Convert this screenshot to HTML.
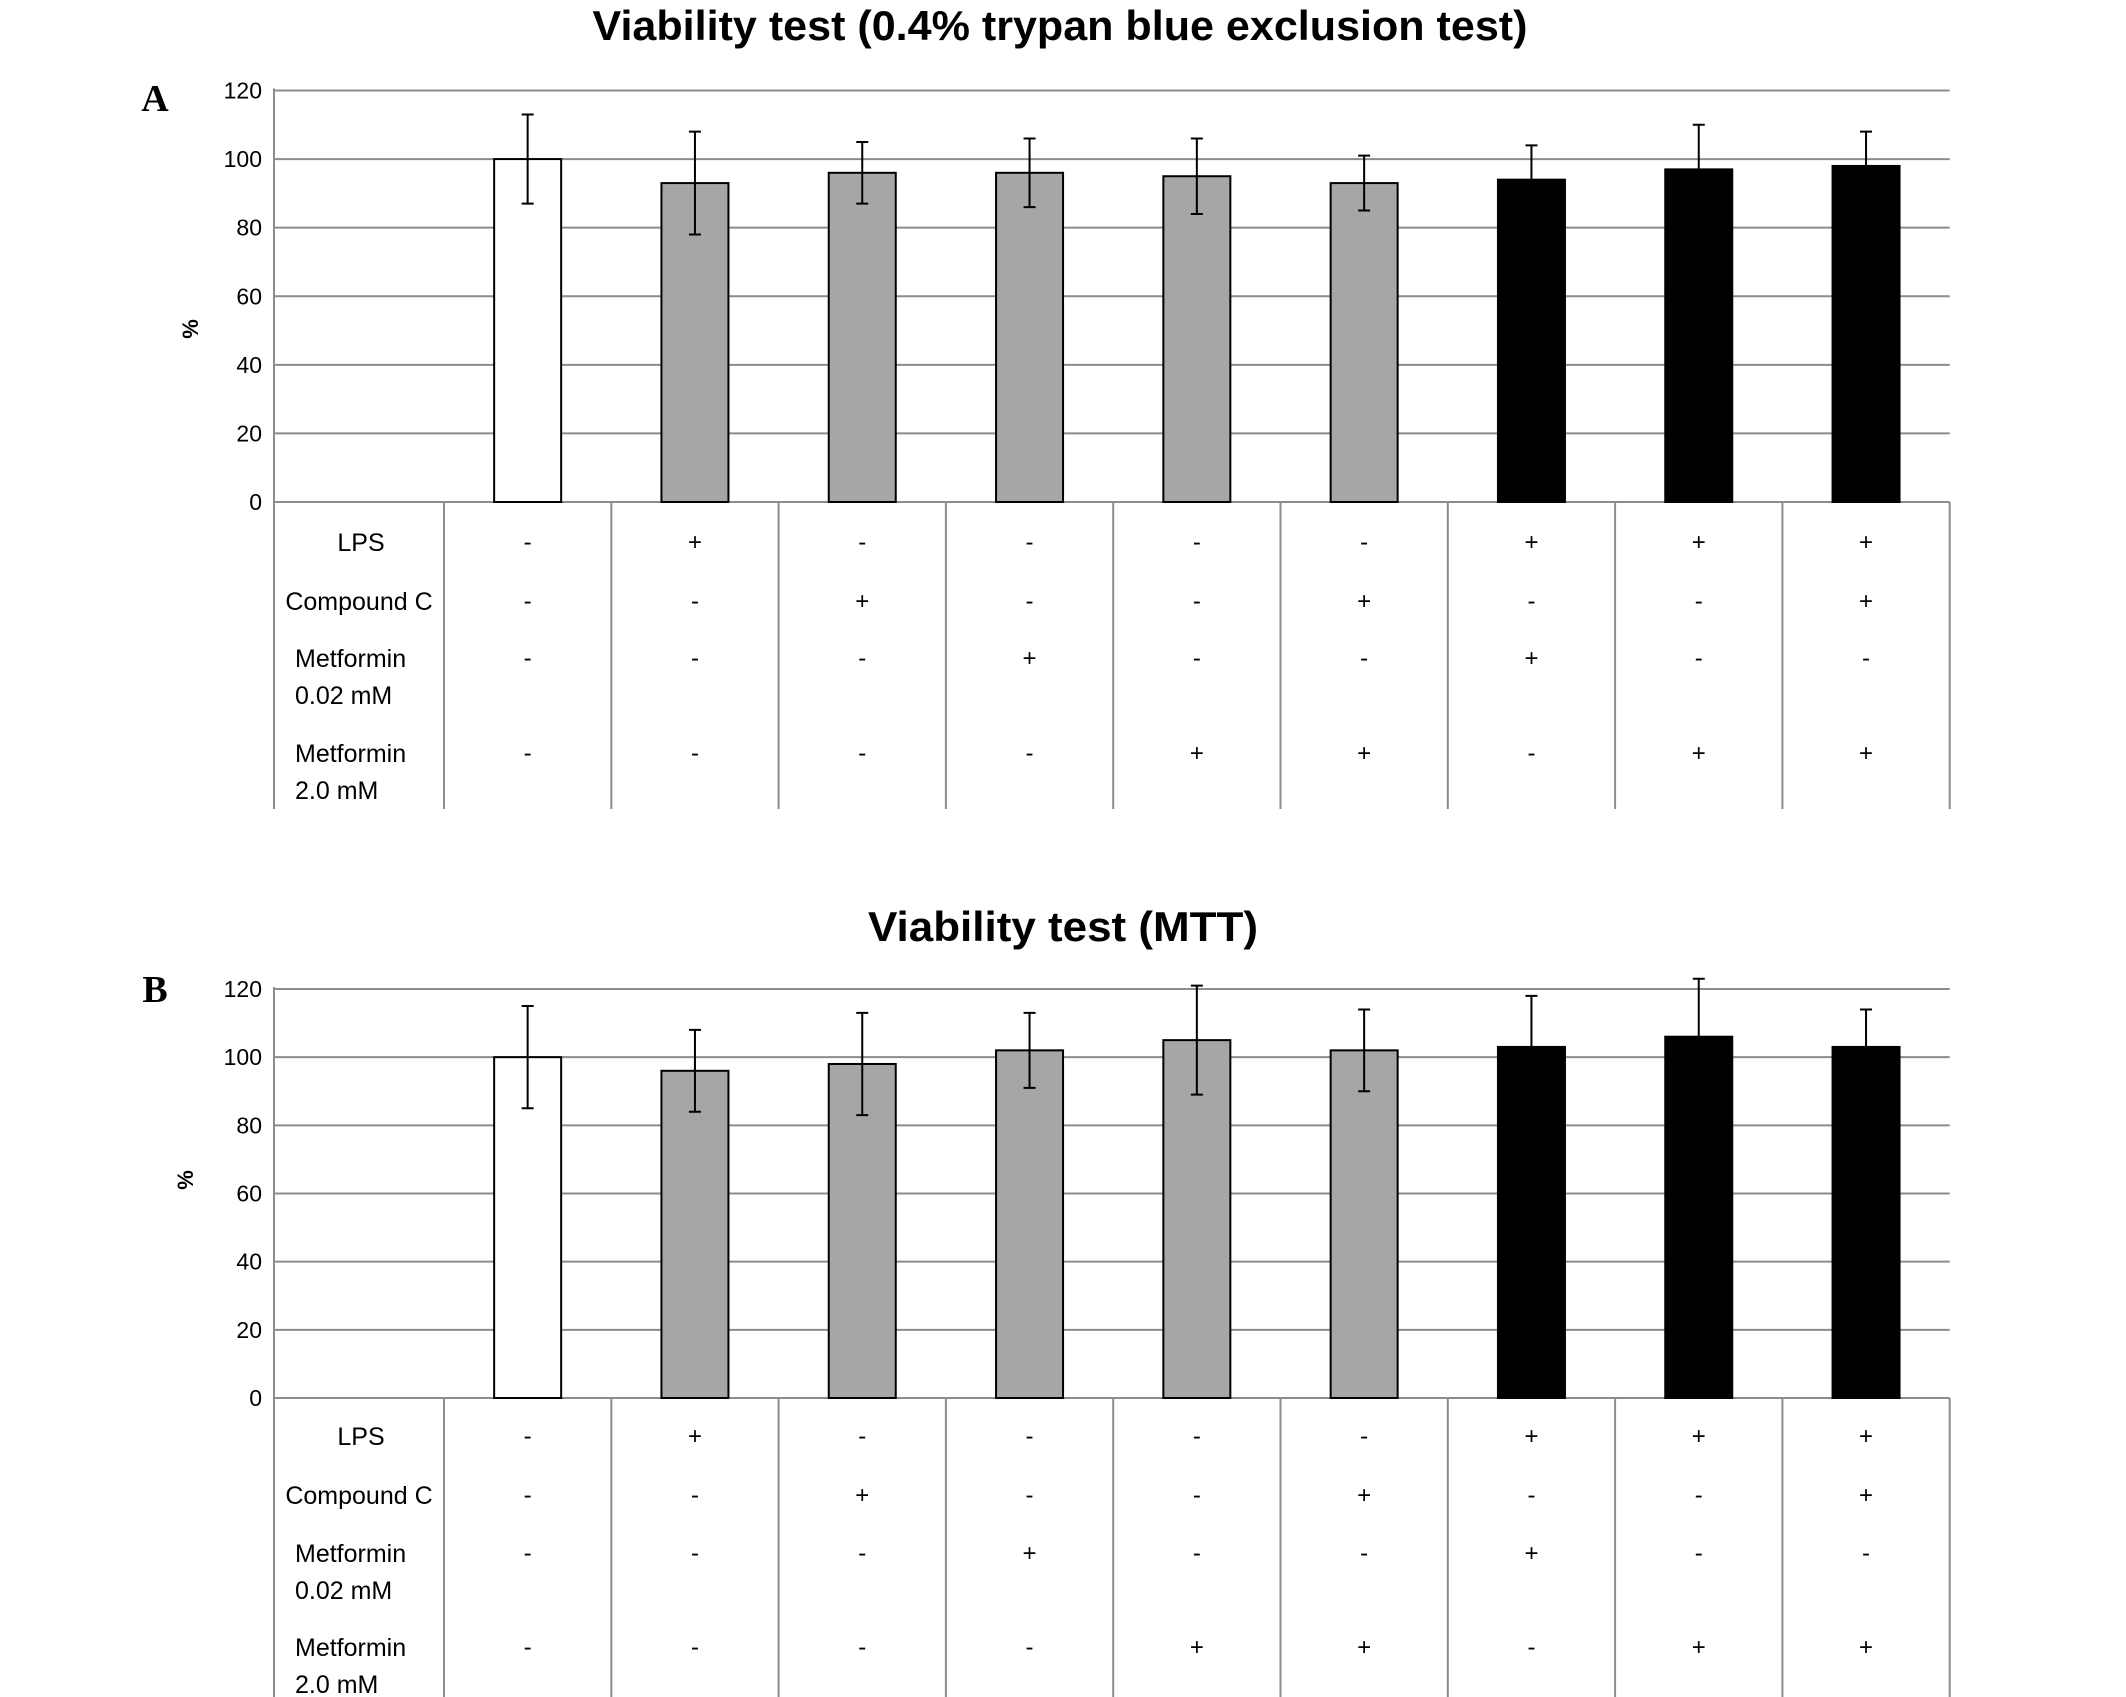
<!DOCTYPE html>
<html><head><meta charset="utf-8"><style>
html,body{margin:0;padding:0;background:#fff;}
svg{display:block;font-family:"Liberation Sans",sans-serif;}
</style></head><body>
<svg id="fig" width="2126" height="1697" viewBox="0 0 2126 1697">
<text x="1060" y="40" text-anchor="middle" font-size="42" font-weight="bold" textLength="935" lengthAdjust="spacingAndGlyphs">Viability test (0.4% trypan blue exclusion test)</text>
<text x="155" y="111" text-anchor="middle" font-size="38" font-weight="bold" font-family="Liberation Serif, serif">A</text>
<text x="1063" y="941" text-anchor="middle" font-size="42" font-weight="bold" textLength="390" lengthAdjust="spacingAndGlyphs">Viability test (MTT)</text>
<text x="155" y="1002" text-anchor="middle" font-size="38" font-weight="bold" font-family="Liberation Serif, serif">B</text>
<g id="ga"></g><g id="gb"></g>
</svg>
<script>
const categories = ["C1","C2","C3","C4","C5","C6","C7","C8","C9"];
const valuesA = [100,93,96,96,95,93,94,97,98];
const errorsA = [13,15,9,10,11,8,10,13,10];
const valuesB = [100,96,98,102,105,102,103,106,103];
const errorsB = [15,12,15,11,16,12,15,17,11];
const yTicks = [0,20,40,60,80,100,120];
const rowLPS = ["-","+","-","-","-","-","+","+","+"];
const rowCompC = ["-","-","+","-","-","+","-","-","+"];
const rowMet002 = ["-","-","-","+","-","-","+","-","-"];
const rowMet20 = ["-","-","-","-","+","+","-","+","+"];
const barColors = ["#ffffff","#a6a6a6","#a6a6a6","#a6a6a6","#a6a6a6","#a6a6a6","#000000","#000000","#000000"];

const NS="http://www.w3.org/2000/svg";
function mk(parent,tag,attrs,text){const e=document.createElementNS(NS,tag);for(const k in attrs)e.setAttribute(k,attrs[k]);if(text!==undefined)e.textContent=text;parent.appendChild(e);return e;}

function drawChart(g, cfg){
  const axisX=274, colStart=444, colW=167.3, right=colStart+colW*9;
  const y=v=>cfg.y0-(v/120)*(cfg.y0-cfg.y120);
  const cx=i=>colStart+colW*(i+0.5);
  yTicks.forEach(t=>{
    const l=mk(g,'line',{x1:axisX,x2:right,y1:y(t),y2:y(t),stroke:'#8c8c8c','stroke-width':2});
    
    
    const tx=mk(g,'text',{x:262,y:y(t)+8,'text-anchor':'end','font-size':23},String(t));
    
    
  });
  const ax=mk(g,'line',{x1:axisX,x2:axisX,y1:y(120)-2,y2:cfg.tableBottom,stroke:'#8c8c8c','stroke-width':2});
  
  
  for(let i=0;i<=9;i++){
    const l=mk(g,'line',{x1:colStart+colW*i,x2:colStart+colW*i,y1:y(0),y2:cfg.tableBottom,stroke:'#8c8c8c','stroke-width':2});
    
    
  }
  const yl=mk(g,'text',{x:0,y:0,'font-size':22,'font-weight':'bold','text-anchor':'middle',transform:`translate(${cfg.pctX},${cfg.pctY}) rotate(-90)`},'%');
  
  
  const bw=67;
  cfg.vals.forEach((v,i)=>{
    const r=mk(g,'rect',{x:cx(i)-bw/2,y:y(v),width:bw,height:y(0)-y(v),fill:barColors[i],stroke:'#000','stroke-width':2});
    
    
    const e=cfg.errs[i], x=cx(i);
    const eb=mk(g,'path',{d:`M${x},${y(v+e)}V${y(v-e)}M${x-6},${y(v+e)}H${x+6}M${x-6},${y(v-e)}H${x+6}`,stroke:'#000','stroke-width':2,fill:'none'});
    
    
  });
  const rows=[[rowLPS,cfg.rY[0]],[rowCompC,cfg.rY[1]],[rowMet002,cfg.rY[2]],[rowMet20,cfg.rY[4]]];
  rows.forEach(([arr,ry],ri)=>{
    arr.forEach((s,i)=>{
      const t=mk(g,'text',{x:cx(i),y:ry+8,'text-anchor':'middle','font-size':24},s);
      
      
    });
  });
  const labels=[["LPS",361,cfg.rY[0],'middle'],["Compound C",359,cfg.rY[1],'middle'],["Metformin",295,cfg.rY[2],'start'],["0.02 mM",295,cfg.rY[3],'start'],["Metformin",295,cfg.rY[4],'start'],["2.0 mM",295,cfg.rY[5],'start']];
  labels.forEach(([s,x,yy,a])=>{
    const t=mk(g,'text',{x:x,y:yy+9,'text-anchor':a,'font-size':25},s);
    
    
  });
}
drawChart(document.getElementById('ga'),{y0:502,y120:90.5,tableBottom:809,vals:valuesA,errs:errorsA,pctX:198,pctY:329,rY:[542,601,658,695,753,790]});
drawChart(document.getElementById('gb'),{y0:1398,y120:989,tableBottom:1697,vals:valuesB,errs:errorsB,pctX:193,pctY:1180,rY:[1436,1495,1553,1590,1647,1684]});
</script>
</body></html>
